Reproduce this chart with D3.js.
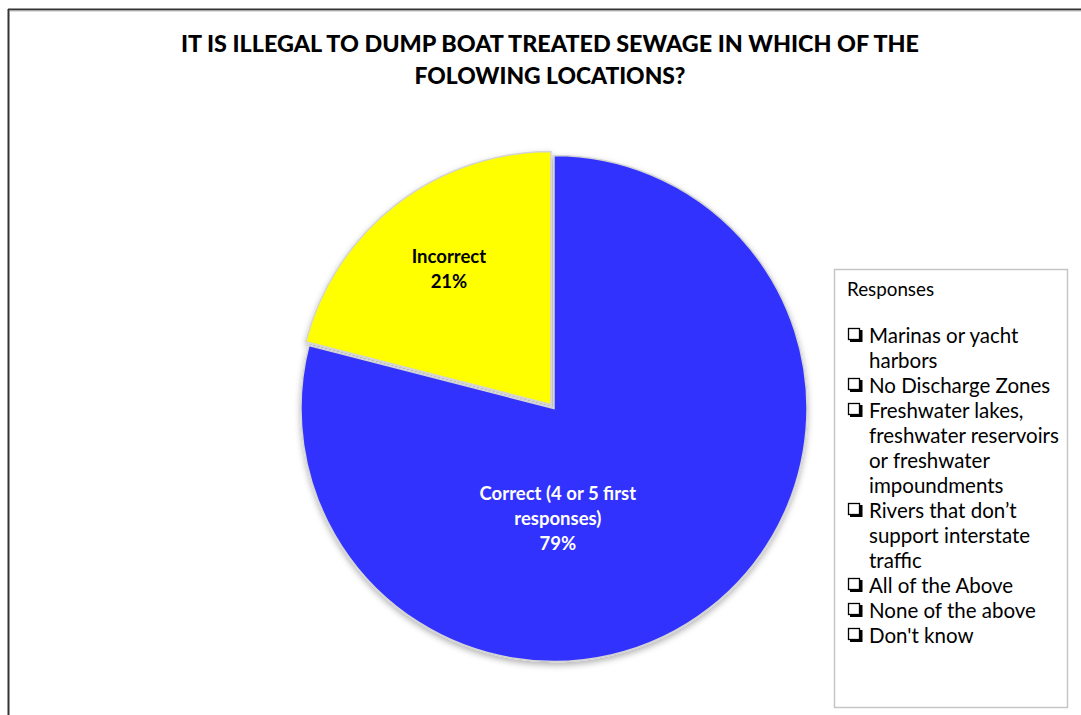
<!DOCTYPE html>
<html>
<head>
<meta charset="utf-8">
<script src="https://cdn.jsdelivr.net/npm/d3@7"></script>
<style>
  html, body { margin: 0; padding: 0; background: #fff; }
  svg { display: block; }
</style>
</head>
<body>
<svg id="chart" width="1081" height="715"></svg>
<script>
// ---- data ----
const categories = ["Correct (4 or 5 first responses)", "Incorrect"];
const values = [79, 21];
const sliceLabels = [["Correct (4 or 5 first", "responses)", "79%"], ["Incorrect", "21%"]];
const colors = ["#3333FF", "#FFFF00"];
const labelColors = ["#FFFFFF", "#000000"];
const titleLines = ["IT IS ILLEGAL TO DUMP BOAT TREATED SEWAGE IN WHICH OF THE", "FOLOWING LOCATIONS?"];
const legendTitle = "Responses";
const legendItems = [
  ["Marinas or yacht", "harbors"],
  ["No Discharge Zones"],
  ["Freshwater lakes,", "freshwater reservoirs", "or freshwater", "impoundments"],
  ["Rivers that don\u2019t", "support interstate", "traffic"],
  ["All of the Above"],
  ["None of the above"],
  ["Don't know"]
];

// ---- layout ----
const svg = d3.select("#chart");
const W = 1081, H = 715;
const cx = 554, cy = 408.5, R = 253;
const explode = [0, 5];
// label placement as (angle in degrees clockwise from top, fraction of radius)
const labelPolar = [[178, 0.435], [323, 0.69]];
const font = "Lato, 'Open Sans', 'Noto Sans', sans-serif";

// outer border (top + left)
svg.append("line").attr("x1", 8).attr("y1", 9.5).attr("x2", W).attr("y2", 9.5)
  .attr("stroke", "#333").attr("stroke-width", 2);
svg.append("line").attr("x1", 8.5).attr("y1", 9).attr("x2", 8.5).attr("y2", H)
  .attr("stroke", "#333").attr("stroke-width", 2);
svg.append("line").attr("x1", 9.5).attr("y1", 11).attr("x2", W).attr("y2", 11)
  .attr("stroke", "#bbb").attr("stroke-width", 1);

// title
const title = svg.append("text").attr("text-anchor", "middle")
  .attr("font-family", font).attr("font-weight", 900).attr("font-size", 22).attr("fill", "#000");
const titleWidths = [738, 271];
titleLines.forEach((t, i) => {
  title.append("tspan").attr("x", 550).attr("y", 52 + i * 32).text(t)
    .attr("textLength", titleWidths[i]).attr("lengthAdjust", "spacingAndGlyphs");
});

// shadow filter
const defs = svg.append("defs");
const f = defs.append("filter").attr("id", "shadow").attr("x", "-10%").attr("y", "-10%")
  .attr("width", "120%").attr("height", "120%");
f.append("feDropShadow").attr("dx", 0).attr("dy", 3).attr("stdDeviation", 3)
  .attr("flood-color", "#000").attr("flood-opacity", 0.3);

// pie
const pie = d3.pie().sort(null).value(d => d).startAngle(0).endAngle(2 * Math.PI);
const arcs = pie(values);
const arc = d3.arc().innerRadius(0).outerRadius(R);
const g = svg.append("g").attr("transform", `translate(${cx},${cy})`).attr("filter", "url(#shadow)");
g.selectAll("path").data(arcs).join("path")
  .attr("d", arc)
  .attr("fill", (d, i) => colors[i])
  .attr("stroke", "#d4d4d4").attr("stroke-width", 1.5)
  .attr("transform", (d, i) => {
    const a = (d.startAngle + d.endAngle) / 2;
    return `translate(${Math.sin(a) * explode[i]},${-Math.cos(a) * explode[i]})`;
  });

// slice labels
const lg = svg.append("g").attr("transform", `translate(${cx},${cy})`);
arcs.forEach((d, i) => {
  const a = labelPolar[i][0] * Math.PI / 180, rr = labelPolar[i][1] * R;
  const x = Math.sin(a) * rr, y = -Math.cos(a) * rr;
  const lines = sliceLabels[i];
  const t = lg.append("text").attr("text-anchor", "middle")
    .attr("font-family", font).attr("font-weight", 700).attr("font-size", 18.5)
    .attr("fill", labelColors[i]);
  lines.forEach((s, j) => {
    t.append("tspan").attr("x", x).attr("y", y + (j - (lines.length - 1) / 2) * 25 + 6.5).text(s);
  });
});

// legend box
svg.append("rect").attr("x", 834.5).attr("y", 269.5).attr("width", 233).attr("height", 438)
  .attr("fill", "#fff").attr("stroke", "#c6c6c6").attr("stroke-width", 1.5);
svg.append("text").attr("x", 847).attr("y", 295.5).attr("font-family", font).attr("font-size", 18.8)
  .attr("fill", "#000").text(legendTitle);

let yy = 336;
const lineH = 25;
legendItems.forEach(item => {
  // checkbox with shadow edge
  svg.append("rect").attr("x", 848.5).attr("y", yy - 7.5).attr("width", 11).attr("height", 11)
    .attr("fill", "#fff").attr("stroke", "#000").attr("stroke-width", 1.3);
  svg.append("path").attr("d", `M${850},${yy + 4.8} L${861.2},${yy + 4.8} L${861.2},${yy - 6}`)
    .attr("fill", "none").attr("stroke", "#000").attr("stroke-width", 2.6);
  item.forEach((s, j) => {
    svg.append("text").attr("x", 869).attr("y", yy + 6.5 + j * lineH)
      .attr("font-family", font).attr("font-size", 20.5).attr("fill", "#000").text(s);
  });
  yy += item.length * lineH;
});
</script>
</body>
</html>
